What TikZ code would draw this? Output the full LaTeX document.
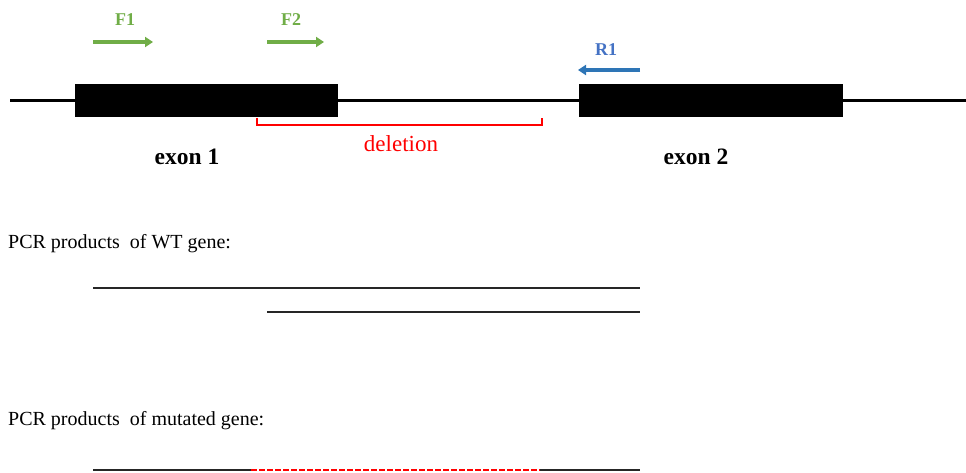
\documentclass[tikz,border=0pt]{standalone}
\usepackage{fontspec}
\setmainfont{Liberation Serif}
\usetikzlibrary{arrows.meta}
\definecolor{primergreen}{HTML}{70AD47}
\definecolor{primerblue}{HTML}{2E75B6}
\definecolor{labelblue}{HTML}{4472C4}
\definecolor{delred}{HTML}{FF0000}
\tikzset{
  exonbox/.style={draw=black,fill=black,inner sep=0pt},
  gene/.style={line width=3pt,black},
  primerf/.style={line width=3.5pt,primergreen,-{Triangle[length=8pt,width=10pt]}},
  primerr/.style={line width=3.5pt,primerblue,-{Triangle[length=8pt,width=10pt]}},
  plabel/.style={font=\fontsize{18}{21}\selectfont\bfseries,inner sep=0pt},
  exlabel/.style={font=\fontsize{23.5}{27}\selectfont\bfseries,inner sep=0pt},
  txt/.style={font=\fontsize{20}{24}\selectfont,inner sep=0pt,anchor=west},
  product/.style={line width=2.6pt,black!85},
  delproduct/.style={line width=2.6pt,delred,dash pattern=on 6pt off 2pt}
}
\begin{document}
\begin{tikzpicture}[x=1pt,y=-1pt]
\useasboundingbox (0,0) rectangle (966,473);
% gene backbone
\coordinate (g0) at (10,101);
\coordinate (g1) at (966,101);
\draw[gene] (g0) -- (g1);
% exons
\path[exonbox] (75,84) rectangle (337,116);
\node[inner sep=0pt] (ex1) at (206,100) {};
\path[exonbox] (579,84) rectangle (842,116);
\node[inner sep=0pt] (ex2) at (710,100) {};
% primers
\coordinate (f1s) at (93,42); \coordinate (f1e) at (153,42);
\draw[primerf] (f1s) -- (f1e);
\node[plabel,text=primergreen] (F1) at (125,20) {F1};
\coordinate (f2s) at (267,42); \coordinate (f2e) at (324,42);
\draw[primerf] (f2s) -- (f2e);
\node[plabel,text=primergreen] (F2) at (291,20) {F2};
\coordinate (r1s) at (640,70); \coordinate (r1e) at (578,70);
\draw[primerr] (r1s) -- (r1e);
\node[plabel,text=labelblue] (R1) at (606,50) {R1};
% deletion bracket
\coordinate (d0) at (257,118); \coordinate (d1) at (542,118);
\draw[delred,line width=2pt] (d0) -- ++(0,7) -| (d1);
\node[font=\fontsize{23}{27}\selectfont,text=delred,inner sep=0pt] (del) at (401,144) {deletion};
% exon labels
\node[exlabel] (e1) at (187,157) {exon 1};
\node[exlabel] (e2) at (696,157) {exon 2};
% WT products
\node[txt] (wt) at (8,244) {PCR products\ \ of WT gene:};
\coordinate (w1a) at (93,288); \coordinate (w1b) at (640,288);
\draw[product] (w1a) -- (w1b);
\coordinate (w2a) at (267,312); \coordinate (w2b) at (640,312);
\draw[product] (w2a) -- (w2b);
% mutated products
\node[txt] (mt) at (8,421) {PCR products\ \ of mutated gene:};
\coordinate (m0) at (93,470); \coordinate (m1) at (251,470);
\coordinate (m2) at (540,470); \coordinate (m3) at (640,470);
\draw[product] (m0) -- (m1);
\draw[delproduct] (m1) -- (m2);
\draw[product] (m2) -- (m3);
\end{tikzpicture}
\end{document}
